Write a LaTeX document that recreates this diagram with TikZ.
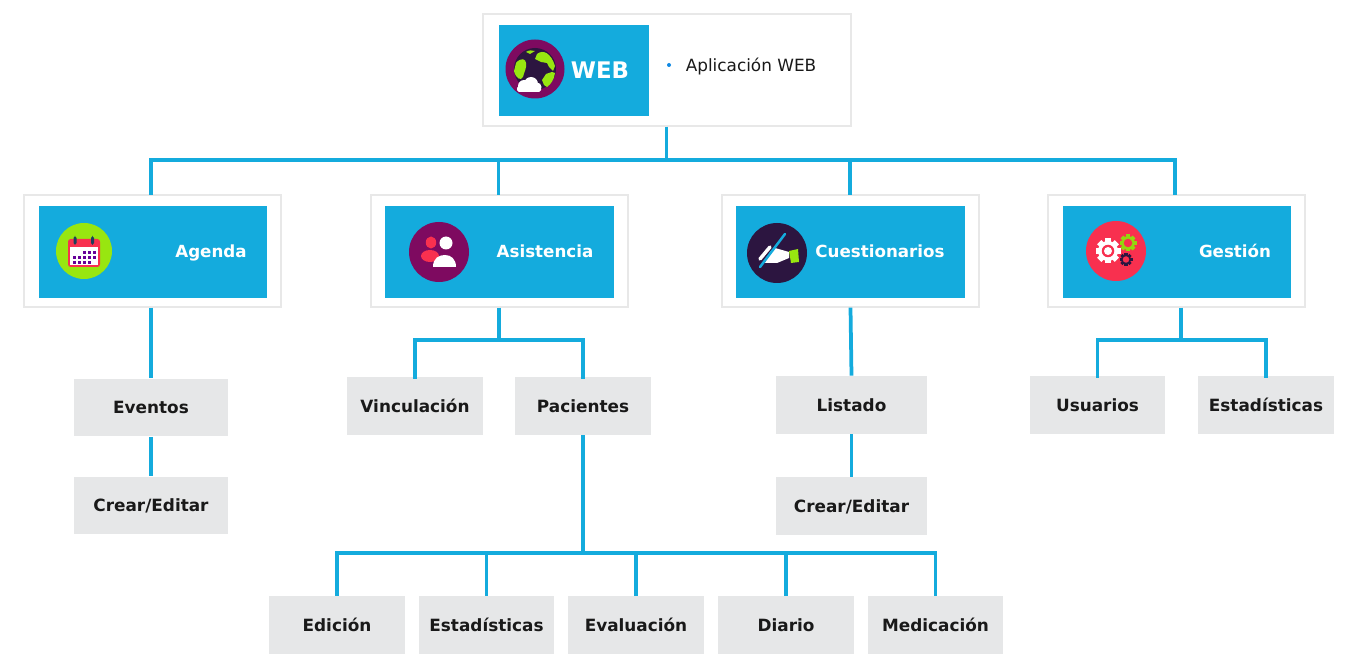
\documentclass[tikz,border=0pt]{standalone}
\usepackage{fontspec}
\setmainfont{DejaVu Sans}
\usetikzlibrary{positioning}
\definecolor{headblue}{HTML}{14ABDD}
\definecolor{leafgray}{HTML}{E6E7E8}
\definecolor{cardline}{HTML}{E8E8E8}
\definecolor{plum}{HTML}{7E0A60}
\definecolor{night}{HTML}{2C1540}
\definecolor{lime}{HTML}{98E610}
\definecolor{coral}{HTML}{F8304F}
\tikzset{
  card/.style={draw=cardline,line width=0.022cm,fill=white,minimum width=5.14cm,minimum height=2.24cm,inner sep=0},
  head/.style={fill=headblue,minimum width=4.57cm,minimum height=1.84cm,inner sep=0},
  headtext/.style={text=white,font=\fontsize{9.5}{11}\selectfont\bfseries,inner sep=0,text height=1.5ex,text depth=0.25ex},
  leaf/.style={fill=leafgray,minimum width=2.72cm,minimum height=1.16cm,inner sep=0,font=\fontsize{9.6}{11}\selectfont\bfseries,text=black!90,text height=1.5ex,text depth=0.25ex},
  link/.style={draw=headblue,line width=0.075cm},
}
\newcommand{\gearicon}[5]{%
  \foreach \ang in {0,45,...,315} {\fill[#4,rotate around={\ang:(#1,#2)}] (#1-#3*0.24,#2) rectangle (#1+#3*0.24,#2-#3);}
  \fill[#4] (#1,#2) circle[radius=#3*0.8];
  \fill[#5] (#1,#2) circle[radius=#3*0.5];
}
\begin{document}
\begin{tikzpicture}[x=0.02cm,y=-0.02cm]
  \useasboundingbox (0,0) rectangle (1353,672);
  % top level
  \node[card,minimum width=7.36cm] (root) at (667,70) {};
  \node[head,minimum width=3cm] (webhead) at (574,70.5) {};
  \node[headtext,font=\fontsize{13}{15}\selectfont\bfseries] (webtext) at (600,72.5) {WEB};
  \fill[headblue!80!blue] (669,65) circle[radius=2];
  \node[inner sep=0,font=\fontsize{9.6}{11}\selectfont,text=black!90,text height=1.5ex,text depth=0.25ex] (webitem) at (751,65) {Aplicación WEB};
  % second level
  \node[card] (agenda) at (152.5,251) {};
  \node[card] (asistencia) at (499.5,251) {};
  \node[card] (cuestionarios) at (850.5,251) {};
  \node[card] (gestion) at (1176.5,251) {};
  \node[head] (agendahead) at (153,252) {};
  \node[head] (asistenciahead) at (499.5,252) {};
  \node[head] (cuestionarioshead) at (850.5,252) {};
  \node[head] (gestionhead) at (1177,252) {};
  \node[headtext] (agendatext) at (211,251) {Agenda};
  \node[headtext] (asistenciatext) at (545,251) {Asistencia};
  \node[headtext] (cuestionariostext) at (880,251) {Cuestionarios};
  \node[headtext] (gestiontext) at (1235,251) {Gestión};
  % leaves
  \node[leaf,minimum width=3.08cm] (eventos) at (151,407.5) {Eventos};
  \node[leaf,minimum width=3.08cm] (crearA) at (151,505.5) {Crear/Editar};
  \node[leaf] (vinculacion) at (415,406) {Vinculación};
  \node[leaf] (pacientes) at (583,406) {Pacientes};
  \node[leaf,minimum width=3.02cm] (listado) at (851.5,405) {Listado};
  \node[leaf,minimum width=3.02cm] (crearB) at (851.5,506) {Crear/Editar};
  \node[leaf] (usuarios) at (1097.5,405) {Usuarios};
  \node[leaf] (estadB) at (1266,405) {Estadísticas};
  \node[leaf] (edicion) at (337,625) {Edición};
  \node[leaf] (estadA) at (486.5,625) {Estadísticas};
  \node[leaf] (evaluacion) at (636,625) {Evaluación};
  \node[leaf] (diario) at (786,625) {Diario};
  \node[leaf] (medicacion) at (935.5,625) {Medicación};
  % connectors
  \coordinate (topbus) at (666.5,160);
  \coordinate (agendatop) at (151,195);
  \coordinate (asistenciatop) at (498.5,195);
  \coordinate (cuestionariostop) at (850,195);
  \coordinate (gestiontop) at (1175,195);
  \coordinate (asisbus) at (499,340);
  \coordinate (gestbus) at (1181,340);
  \coordinate (pacbus) at (583,553);
  \draw[link] (root.south -| topbus) -- (topbus);
  \draw[link,line cap=rect] (topbus -| agendatop) -- (topbus -| gestiontop);
  \foreach \card in {agenda,asistencia,cuestionarios,gestion} {\draw[link] (topbus -| \card top) -- (\card top);}
  \draw[link] (agenda.south -| eventos.north) -- (eventos.north);
  \draw[link] (eventos.south) -- (crearA.north);
  \draw[link] (asistencia.south -| asisbus) -- (asisbus);
  \draw[link,line cap=rect] (vinculacion.north) |- (asisbus -| pacientes.north) -- (pacientes.north);
  \draw[link] (cuestionarios.south) -- (listado.north);
  \draw[link] (listado.south) -- (crearB.north);
  \draw[link] (gestion.south -| gestbus) -- (gestbus);
  \draw[link,line cap=rect] (usuarios.north) |- (gestbus -| estadB.north) -- (estadB.north);
  \draw[link] (pacientes.south) -- (pacbus);
  \draw[link,line cap=rect] (pacbus -| edicion.north) -- (pacbus -| medicacion.north);
  \foreach \leaf in {edicion,estadA,evaluacion,diario,medicacion} {\draw[link] (pacbus -| \leaf.north) -- (\leaf.north);}
  % icon web
  \fill[plum] (535,69) circle[radius=29.5];
  \fill[night] (535,69) circle[radius=21];
  \fill[lime] (516,63) .. controls (521,57) and (526,59) .. (526,63) .. controls (527,68) and (524,72) .. (523,77) .. controls (521,81) and (516,79) .. (514,71) -- cycle;
  \fill[lime] (535,59) -- (537,54) .. controls (543,49) and (551,53) .. (555,66) -- (553,71) -- (549,67) -- (547,63) -- (541,62) -- cycle;
  \fill[lime] (542,80) -- (546,74) -- (552,72) -- (555,73) .. controls (554,80) and (551,84) .. (547,87) -- (544,85) -- cycle;
  \fill[lime] (526,52) .. controls (529,50) and (532,50) .. (535,51) -- (530,54) -- cycle;
  \fill[white] (524,86) circle[radius=6] (531,84) circle[radius=7] (537,87) circle[radius=4.5];
  \fill[white,rounded corners=1] (517,86) rectangle (541,92);
  % icon agenda
  \fill[lime] (84,251) circle[radius=28];
  \fill[coral,rounded corners=1.5] (68,239) rectangle (100,267);
  \fill[white] (70,247) rectangle (98,265.5);
  \fill[night!60!teal,rounded corners=1] (73.5,236) rectangle (76.5,245);
  \fill[night!60!teal,rounded corners=1] (91,236) rectangle (94,245);
  \foreach \col/\row in {2/1,3/1,4/1,0/2,1/2,2/2,3/2,4/2,0/3,1/3,2/3,3/3} {\fill[violet!80!blue] (72.5+5*\col,249+5*\row-3) rectangle ++(3.2,3.2);}
  % icon asistencia
  \fill[plum] (439,252) circle[radius=30];
  \fill[coral] (431,242.5) ellipse[x radius=5.2,y radius=6];
  \fill[coral] (430,256) ellipse[x radius=9,y radius=6];
  \fill[white] (446,243) circle[radius=6.5];
  \fill[white] (433,267) .. controls (433,258) and (439,255) .. (445,255) .. controls (451,255) and (456,259) .. (456,267) -- cycle;
  % icon cuestionarios
  \fill[night] (777,253) circle[radius=30];
  \draw[white,line width=0.07cm,line cap=round] (760,259) -- (770,247);
  \fill[white] (770,252) -- (775,248) -- (789,252) -- (789,258) -- (777,263) -- (765,263) -- cycle;
  \draw[headblue,line width=0.05cm,line cap=round] (785,234) -- (760,267);
  \fill[lime] (789,251) -- (798,249) -- (799,262) -- (791,263) -- cycle;
  % icon gestion
  \fill[coral] (1116,251) circle[radius=30];
  \gearicon{1108}{251}{12.5}{white}{coral}
  \fill[white] (1108,251) circle[radius=4];
  \gearicon{1128}{243}{8.5}{lime!85!olive}{coral}
  \gearicon{1126}{259.5}{6.5}{night}{coral}
\end{tikzpicture}
\end{document}
